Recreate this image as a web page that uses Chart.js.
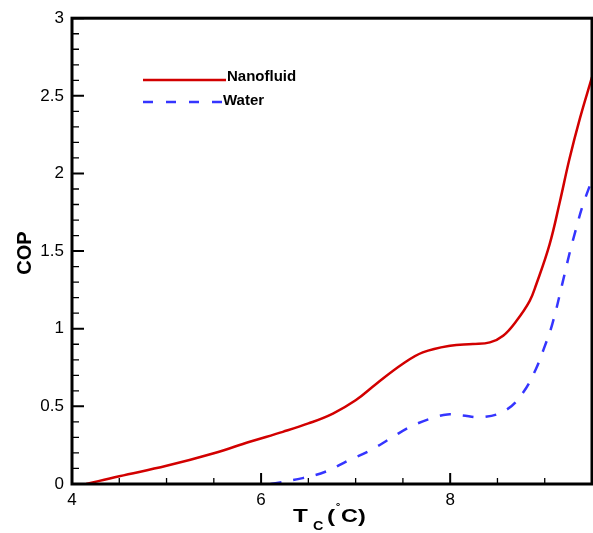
<!DOCTYPE html>
<html>
<head>
<meta charset="utf-8">
<script src="https://cdn.jsdelivr.net/npm/chart.js@4"></script>
<style>body{margin:0;background:#fff}</style>
</head>
<body>
<canvas id="copChart" width="593" height="533"></canvas>
<script>
// values
const nanoTemp = [4.15, 4.5, 5.0, 5.5, 5.88, 6.23, 6.5, 6.76, 7.0, 7.22, 7.5, 7.71, 8.0, 8.24, 8.42, 8.56, 8.70, 8.84, 8.91, 9.05, 9.16, 9.26, 9.37, 9.5];
const nanoCop  = [0, 0.05, 0.117, 0.198, 0.272, 0.336, 0.39, 0.454, 0.539, 0.646, 0.774, 0.848, 0.891, 0.901, 0.912, 0.955, 1.05, 1.178, 1.285, 1.54, 1.818, 2.09, 2.35, 2.62];
const waterTemp = [6.1, 6.44, 6.69, 6.92, 7.15, 7.38, 7.6, 7.84, 7.97, 8.1, 8.36, 8.6, 8.77, 8.9, 8.99, 9.08, 9.19, 9.26, 9.33, 9.4, 9.5];
const waterCop  = [0, 0.038, 0.081, 0.151, 0.215, 0.298, 0.375, 0.43, 0.448, 0.443, 0.432, 0.48, 0.588, 0.731, 0.87, 1.03, 1.3, 1.48, 1.64, 1.79, 1.96];

const xMajor = [4, 6, 8];
const xMinor = [4.5, 5, 5.5, 6.5, 7, 7.5, 8.5, 9];
const yMinor = [0.1, 0.2, 0.3, 0.4, 0.6, 0.7, 0.8, 0.9, 1.1, 1.2, 1.3, 1.4, 1.6, 1.7, 1.8, 1.9,
                2.1, 2.2, 2.3, 2.4, 2.6, 2.7, 2.8, 2.9];

const FONT = "'Liberation Sans', Arial, sans-serif";
const RED = '#d20000';
const BLUE = '#3535ff';

function toPoints(xs, ys) {
  return xs.map((v, i) => ({ x: v, y: ys[i] }));
}

// text a bit wider than the font, like the original export
function wideText(ctx, txt, x, y, font, sx) {
  ctx.save();
  ctx.font = font;
  ctx.translate(x, y);
  ctx.scale(sx, 1);
  ctx.fillText(txt, 0, 0);
  ctx.restore();
}

// frame, inward ticks, legend and axis titles
const frameAndTicks = {
  id: 'frameAndTicks',
  afterDatasetsDraw(chart) {
    const { ctx, chartArea: a, scales: { x, y } } = chart;
    ctx.save();
    ctx.strokeStyle = '#000';

    ctx.lineWidth = 2;
    ctx.beginPath();
    xMajor.forEach(v => {
      const px = x.getPixelForValue(v);
      ctx.moveTo(px, a.bottom); ctx.lineTo(px, a.bottom - 11);
    });
    y.ticks.forEach(t => {
      const py = y.getPixelForValue(t.value);
      ctx.moveTo(a.left, py); ctx.lineTo(a.left + 12, py);
    });
    ctx.stroke();

    ctx.lineWidth = 1.3;
    ctx.beginPath();
    xMinor.forEach(v => {
      const px = x.getPixelForValue(v);
      ctx.moveTo(px, a.bottom); ctx.lineTo(px, a.bottom - 6);
    });
    yMinor.forEach(v => {
      const py = y.getPixelForValue(v);
      ctx.moveTo(a.left, py); ctx.lineTo(a.left + 7, py);
    });
    ctx.stroke();

    ctx.lineWidth = 3;
    ctx.strokeRect(a.left, a.top, a.right - a.left, a.bottom - a.top);

    // legend
    ctx.lineWidth = 2.5;
    ctx.strokeStyle = RED;
    ctx.beginPath(); ctx.moveTo(143, 80); ctx.lineTo(226, 80); ctx.stroke();
    ctx.strokeStyle = BLUE;
    ctx.setLineDash([10, 13]);
    ctx.beginPath(); ctx.moveTo(143, 102); ctx.lineTo(226, 102); ctx.stroke();
    ctx.setLineDash([]);
    ctx.fillStyle = '#000';
    ctx.font = 'bold 15px ' + FONT;
    ctx.textBaseline = 'middle';
    ctx.fillText('Nanofluid', 227, 77);
    ctx.fillText('Water', 223, 101);

    // y title
    ctx.save();
    ctx.translate(25, 253);
    ctx.rotate(-Math.PI / 2);
    ctx.textAlign = 'center';
    ctx.font = 'bold 20px ' + FONT;
    ctx.fillText('COP', 0, 0);
    ctx.restore();

    // x title: T_C (°C)
    ctx.textBaseline = 'alphabetic';
    wideText(ctx, 'T', 293, 522, 'bold 18px ' + FONT, 1.35);
    wideText(ctx, 'C', 313, 530, 'bold 12px ' + FONT, 1.2);
    wideText(ctx, '(', 327, 522, 'bold 18px ' + FONT, 1.35);
    wideText(ctx, '\u02DA', 336, 513, 'bold 12px ' + FONT, 1.2);
    wideText(ctx, 'C)', 341, 522, 'bold 18px ' + FONT, 1.3);

    ctx.restore();
  }
};

new Chart(document.getElementById('copChart'), {
  type: 'scatter',
  data: {
    datasets: [{
      label: 'Nanofluid',
      data: toPoints(nanoTemp, nanoCop),
      showLine: true,
      borderColor: RED,
      borderWidth: 2.5,
      pointRadius: 0,
      tension: 0.4
    }, {
      label: 'Water',
      data: toPoints(waterTemp, waterCop),
      showLine: true,
      borderColor: BLUE,
      borderWidth: 2.5,
      borderDash: [11, 12],
      pointRadius: 0,
      tension: 0.4
    }]
  },
  options: {
    responsive: false,
    animation: false,
    layout: { padding: { top: 15, right: 1, bottom: 0, left: 0 } },
    plugins: { legend: { display: false }, tooltip: { enabled: false } },
    scales: {
      x: {
        type: 'linear',
        min: 4, max: 9.5,
        afterBuildTicks: s => { s.ticks = xMajor.map(v => ({ value: v })); },
        afterFit: s => { s.height = 49; },
        grid: { display: false, drawTicks: false },
        border: { display: false },
        ticks: { padding: 6, color: '#000', font: { family: FONT, size: 17 }, maxRotation: 0 }
      },
      y: {
        type: 'linear',
        min: 0, max: 3,
        afterFit: s => { s.width = 72; },
        grid: { display: false, drawTicks: false },
        border: { display: false },
        ticks: {
          stepSize: 0.5, padding: 8, color: '#000',
          font: { family: FONT, size: 17 },
          callback: v => String(v)
        }
      }
    }
  },
  plugins: [frameAndTicks]
});
</script>
</body>
</html>
